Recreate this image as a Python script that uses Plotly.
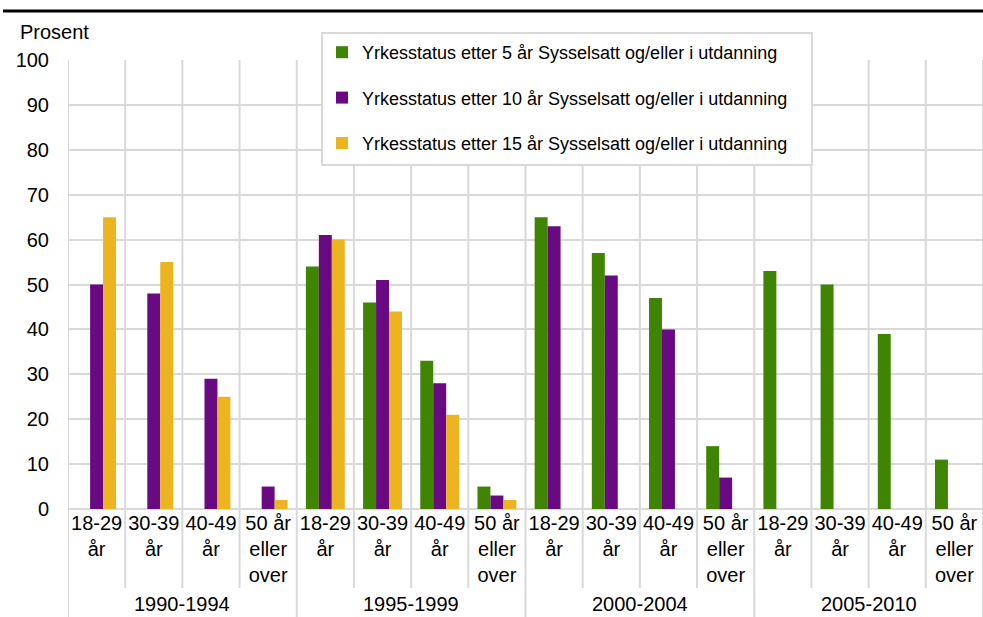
import plotly.graph_objects as go

# Data
periods = ["1990-1994", "1995-1999", "2000-2004", "2005-2010"]
age_groups = ["18-29<br>år", "30-39<br>år", "40-49<br>år", "50 år<br>eller<br>over"]

status_5 = [None, None, None, None, 54, 46, 33, 5, 65, 57, 47, 14, 53, 50, 39, 11]
status_10 = [50, 48, 29, 5, 61, 51, 28, 3, 63, 52, 40, 7, None, None, None, None]
status_15 = [65, 55, 25, 2, 60, 44, 21, 2, None, None, None, None, None, None, None, None]

series_names = [
    "Yrkesstatus etter 5 år Sysselsatt og/eller i utdanning",
    "Yrkesstatus etter 10 år Sysselsatt og/eller i utdanning",
    "Yrkesstatus etter 15 år Sysselsatt og/eller i utdanning",
]
colors = ["#3F8503", "#6A0A83", "#EDB421"]

FONT = "Liberation Sans, Arial, sans-serif"
GRID = "#D9D9D9"

# page is 983x617; body margin is removed below so figure starts at (0, 0)
W, H = 983, 617
L, R, T, B = 68, 0, 60, 108
pw, ph = W - L - R, H - T - B


def px_x(p):
    # page pixel -> paper x
    return (p - L) / pw


def px_y(p):
    # page pixel -> paper y
    return (H - B - p) / ph


n_cat = len(periods) * len(age_groups)
x_pos = list(range(n_cat))
tick_text = age_groups * len(periods)

fig = go.Figure()
for name, vals, col in zip(series_names, [status_5, status_10, status_15], colors):
    fig.add_trace(go.Bar(
        x=x_pos, y=vals, name=name, marker_color=col,
        marker_line_width=0, legendgroup=name,
    ))

shapes = []
# vertical separators between categories
for k in range(n_cat + 1):
    is_group = k % len(age_groups) == 0
    shapes.append(dict(
        type="line", xref="x", yref="paper",
        x0=k - 0.5, x1=k - 0.5,
        y0=px_y(H + 2) if is_group else px_y(588), y1=1,
        line=dict(color=GRID, width=2), layer="below",
    ))
# legend box
shapes.append(dict(
    type="rect", xref="paper", yref="paper",
    x0=px_x(322), x1=px_x(812), y0=px_y(165), y1=px_y(33),
    fillcolor="white", line=dict(color=GRID, width=2), layer="above",
))
# black rule at top
shapes.append(dict(
    type="line", xref="paper", yref="paper",
    x0=px_x(3), x1=1, y0=px_y(11), y1=px_y(11),
    line=dict(color="black", width=3),
))

annotations = [dict(
    text="Prosent", xref="paper", yref="paper",
    x=px_x(18), y=px_y(32), xanchor="left", yanchor="middle",
    showarrow=False, font=dict(size=20, color="black", family=FONT),
)]
for i, p in enumerate(periods):
    annotations.append(dict(
        text=p, xref="x", yref="paper",
        x=i * len(age_groups) + (len(age_groups) - 1) / 2, y=px_y(604),
        xanchor="center", yanchor="middle", showarrow=False,
        font=dict(size=20, color="black", family=FONT),
    ))

fig.update_layout(
    width=W, height=H,
    margin=dict(l=L, r=R, t=T, b=B),
    paper_bgcolor="white", plot_bgcolor="white",
    barmode="group", bargap=0.32, bargroupgap=0,
    font=dict(family=FONT, size=18, color="black"),
    showlegend=True,
    legend=dict(
        x=px_x(322), y=px_y(34), xanchor="left", yanchor="top",
        bgcolor="rgba(0,0,0,0)", borderwidth=0,
        tracegroupgap=19, font=dict(size=18, color="black"),
        itemwidth=30,
    ),
    xaxis=dict(
        range=[-0.5, n_cat - 0.5], tickvals=x_pos, ticktext=tick_text,
        showgrid=False, zeroline=False, showline=False, ticks="",
        tickfont=dict(size=20, color="black"),
    ),
    yaxis=dict(
        range=[0, 100], dtick=10, showgrid=True, gridcolor=GRID, gridwidth=2,
        zeroline=True, zerolinecolor=GRID, zerolinewidth=2,
        showline=False, ticks="", ticklabelstandoff=18,
        tickfont=dict(size=20, color="black"),
    ),
    shapes=shapes,
    annotations=annotations,
)

fig.write_html(
    "out.html",
    config={"displayModeBar": False},
    post_script="document.body.style.margin='0';document.body.style.overflow='hidden';",
)
